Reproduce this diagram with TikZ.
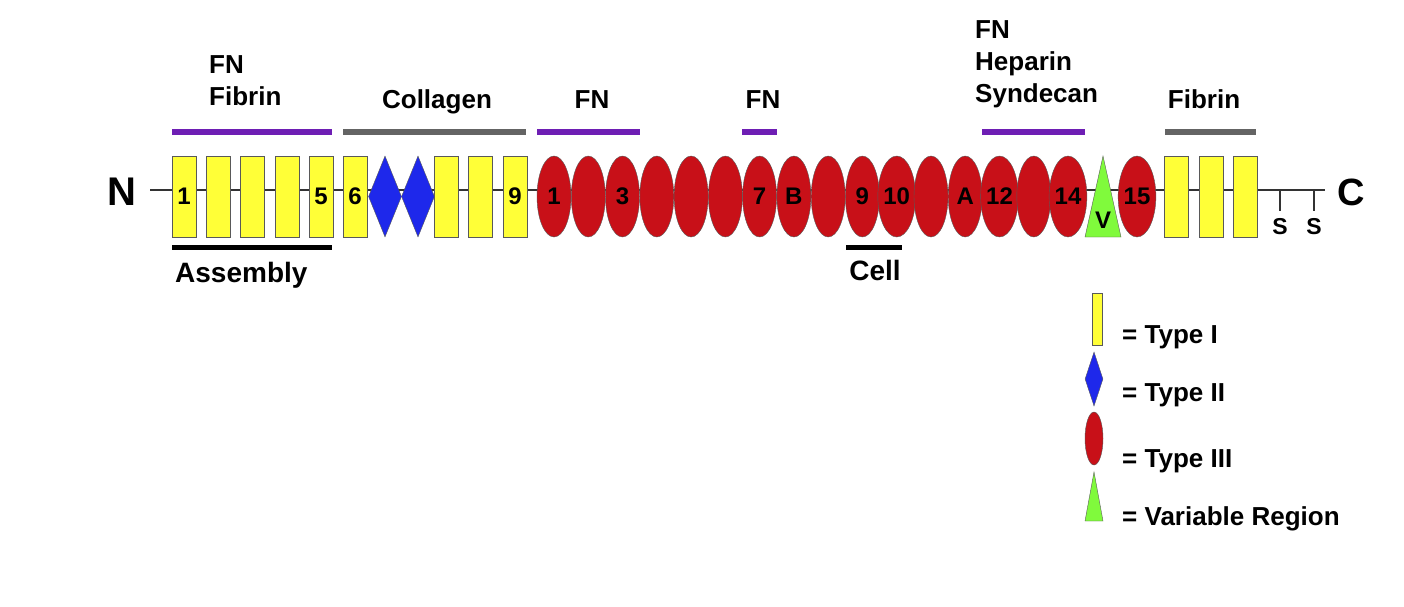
\documentclass[tikz,border=0pt]{standalone}
\usepackage{fontspec}
\setmainfont{Liberation Sans}
\usetikzlibrary{shapes.geometric}
\definecolor{domyellow}{RGB}{255,255,55}
\definecolor{domblue}{RGB}{30,40,235}
\definecolor{domred}{RGB}{200,16,24}
\definecolor{domgreen}{RGB}{128,250,60}
\definecolor{sitepurple}{RGB}{110,30,180}
\definecolor{sitegray}{RGB}{100,100,100}
\newcommand\domnum{\fontsize{24}{24}\selectfont\bfseries}
\newcommand\sitefont{\fontsize{26}{32}\selectfont\bfseries}
\newcommand\bigsitefont{\fontsize{28}{32}\selectfont\bfseries}
\begin{document}
\begin{tikzpicture}[x=1pt,y=-1pt,
    typeone/.style={rectangle,draw=black!65,fill=domyellow,minimum width=24pt,minimum height=81pt,inner sep=0pt,font=\domnum},
    typetwo/.style={diamond,draw=black!65,fill=domblue,minimum width=33pt,minimum height=81pt,inner sep=0pt},
    typethree/.style={ellipse,draw=black!65,fill=domred,minimum width=34pt,minimum height=81pt,inner sep=0pt,font=\domnum},
    varregion/.style={draw=black!65,fill=domgreen},
    sitebar/.style={line width=6pt},
    sitelabel/.style={inner sep=0pt,font=\sitefont},
    keytext/.style={inner sep=0pt,anchor=base west,font=\sitefont}]
    \useasboundingbox (0,0) rectangle (1404,606);
    % backbone
    \coordinate (nend) at (150,190);
    \coordinate (cend) at (1325,190);
    \coordinate (s1top) at (1280,190);
    \coordinate (s1bot) at (1280,211);
    \coordinate (s2top) at (1314,190);
    \coordinate (s2bot) at (1314,211);
    \draw[line width=1.3pt,black!80] (nend) -- (cend);
    \draw[line width=1.3pt,black!80] (s1top) -- (s1bot);
    \draw[line width=1.3pt,black!80] (s2top) -- (s2bot);
    \node[inner sep=0pt,anchor=base,font=\fontsize{40}{40}\selectfont\bfseries] (nterm) at (122,205) {N};
    \node[inner sep=0pt,anchor=base,font=\fontsize{38}{38}\selectfont\bfseries] (cterm) at (1351,205) {C};
    \node[inner sep=0pt,anchor=base,font=\fontsize{23}{23}\selectfont\bfseries] (s1) at (1280,234) {S};
    \node[inner sep=0pt,anchor=base,font=\fontsize{23}{23}\selectfont\bfseries] (s2) at (1314,234) {S};
    % type I, N-terminal
    \node[typeone] (i1) at (184,196.5) {1};
    \node[typeone] (i2) at (218.5,196.5) {};
    \node[typeone] (i3) at (252.5,196.5) {};
    \node[typeone] (i4) at (287,196.5) {};
    \node[typeone] (i5) at (321,196.5) {5};
    \node[typeone] (i6) at (355,196.5) {6};
    \node[typetwo] (ii1) at (385,196.5) {};
    \node[typetwo] (ii2) at (418,196.5) {};
    \node[typeone] (i7) at (446.5,196.5) {};
    \node[typeone] (i8) at (480.5,196.5) {};
    \node[typeone] (i9) at (515,196.5) {9};
    % type III
    \node[typethree] (iii1) at (554,196.5) {1};
    \node[typethree] (iii2) at (588.3,196.5) {};
    \node[typethree] (iii3) at (622.5,196.5) {3};
    \node[typethree] (iii4) at (656.8,196.5) {};
    \node[typethree] (iii5) at (691.1,196.5) {};
    \node[typethree] (iii6) at (725.4,196.5) {};
    \node[typethree] (iii7) at (759.6,196.5) {7};
    \node[typethree] (iiib) at (793.9,196.5) {B};
    \node[typethree] (iii8) at (828.2,196.5) {};
    \node[typethree] (iii9) at (862.4,196.5) {9};
    \node[typethree] (iii10) at (896.7,196.5) {10};
    \node[typethree] (iii11) at (931,196.5) {};
    \node[typethree] (iiia) at (965.2,196.5) {A};
    \node[typethree] (iii12) at (999.5,196.5) {12};
    \node[typethree] (iii13) at (1033.8,196.5) {};
    \node[typethree] (iii14) at (1068,196.5) {14};
    \draw[varregion] (1085,237) -- (1103,156) -- (1121,237) -- cycle;
    \node[inner sep=0pt,anchor=base,font=\domnum] (vlab) at (1103,228) {V};
    \node[typethree] (iii15) at (1137,196.5) {15};
    % type I, C-terminal
    \node[typeone] (i10) at (1176.5,196.5) {};
    \node[typeone] (i11) at (1211,196.5) {};
    \node[typeone] (i12) at (1245.5,196.5) {};
    % binding sites
    \coordinate (fib1a) at (172,132);
    \coordinate (fib1b) at (332,132);
    \coordinate (cola) at (343,132);
    \coordinate (colb) at (526,132);
    \coordinate (fn1a) at (537,132);
    \coordinate (fn1b) at (640,132);
    \coordinate (fn2a) at (742,132);
    \coordinate (fn2b) at (777,132);
    \coordinate (hepa) at (982,132);
    \coordinate (hepb) at (1085,132);
    \coordinate (fib2a) at (1165,132);
    \coordinate (fib2b) at (1256,132);
    \coordinate (asma) at (172,247);
    \coordinate (asmb) at (332,247);
    \coordinate (cella) at (846,247);
    \coordinate (cellb) at (902,247);
    \draw[sitebar,sitepurple] (fib1a) -- (fib1b);
    \draw[sitebar,sitegray] (cola) -- (colb);
    \draw[sitebar,sitepurple] (fn1a) -- (fn1b);
    \draw[sitebar,sitepurple] (fn2a) -- (fn2b);
    \draw[sitebar,sitepurple] (hepa) -- (hepb);
    \draw[sitebar,sitegray] (fib2a) -- (fib2b);
    \draw[line width=5pt] (asma) -- (asmb);
    \draw[line width=5pt] (cella) -- (cellb);
    \node[sitelabel,anchor=north west,align=left] (fnfib) at (209,55) {FN\\Fibrin};
    \node[sitelabel,anchor=base] (col) at (437,108) {Collagen};
    \node[sitelabel,anchor=base] (fn1) at (592,108) {FN};
    \node[sitelabel,anchor=base] (fn2) at (763,108) {FN};
    \node[sitelabel,anchor=north west,align=left] (hep) at (975,20) {FN\\Heparin\\Syndecan};
    \node[sitelabel,anchor=base] (fib2) at (1204,108) {Fibrin};
    \node[inner sep=0pt,anchor=base west,font=\bigsitefont] (asm) at (175,282) {Assembly};
    \node[inner sep=0pt,anchor=base,font=\bigsitefont] (cell) at (875,280) {Cell};
    % legend
    \node[typeone,minimum width=10pt,minimum height=52pt] (keyone) at (1097,319) {};
    \node[typetwo,minimum width=18pt,minimum height=54pt] (keytwo) at (1094,379) {};
    \node[typethree,minimum width=18pt,minimum height=53pt] (keythree) at (1094,438.5) {};
    \draw[varregion] (1085,521) -- (1094,472) -- (1103,521) -- cycle;
    \node[keytext] (keyonetext) at (1122,343) {= Type I};
    \node[keytext] (keytwotext) at (1122,401) {= Type II};
    \node[keytext] (keythreetext) at (1122,467) {= Type III};
    \node[keytext] (keyvartext) at (1122,525) {= Variable Region};
\end{tikzpicture}
\end{document}
